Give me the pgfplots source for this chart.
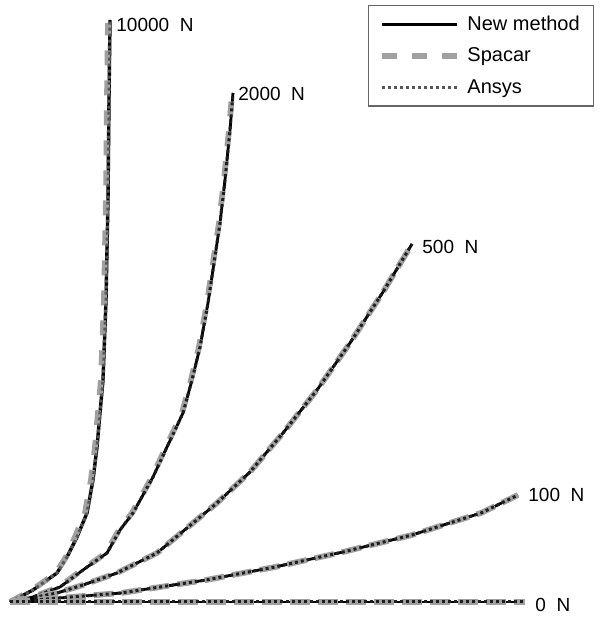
\documentclass[border=0pt]{standalone}
\usepackage{pgfplots}
\pgfplotsset{compat=1.18}
\usepackage{fontspec}
\setmainfont{Liberation Sans}
\definecolor{spgray}{RGB}{160,160,160}
\definecolor{ansys}{RGB}{30,30,30}
\pgfplotstableread{
x y
10 17
33 29
57 46
67 62
77 82
87 106
93 139
97 172
100 206
103 239
106 319
108 419
109 519
110 599
}\nmA
\pgfplotstableread{
x y
10 17
32 29
56 46
66 62
75 82
85 106
91 139
95 172
98 206
101 239
104 319
106 419
107 519
108 596
}\spA
\pgfplotstableread{
x y
10 17
33 22
60 32
83 49
107 66
120 89
133 106
153 142
167 172
183 206
192 239
200 272
208 316
214 356
220 396
225 439
230 489
233 526
}\nmB
\pgfplotstableread{
x y
10 17
33 22
59 32
82 49
106 66
119 89
132 106
152 142
166 172
182 206
191 239
199 272
207 316
213 356
219 396
224 439
229 489
232 524
}\spB
\pgfplotstableread{
x y
10 17
57 26
83 34
117 46
157 66
193 96
217 116
250 147
283 186
317 229
350 276
383 327
412 375
}\nmC
\pgfplotstableread{
x y
10 17
59 21
121 26
206 39
275 52
343 67
412 84
481 106
518 124
}\nmD
\pgfplotstableread{
x y
10 17
525 17
}\nmE
\begin{document}
\begin{tikzpicture}
\begin{axis}[
  width=302.5pt, height=309.5pt, scale only axis,
  xmin=0, xmax=605, ymin=0, ymax=619,
  hide axis, clip=false,
  legend cell align=left,
  legend style={at={(0.6083,0.9919)}, anchor=north west,
    draw=black!60, line width=0.6pt,
    font=\fontsize{10}{12}\selectfont,
    inner xsep=5pt, inner ysep=3pt,
    row sep=3.3pt,
    /tikz/every even column/.append style={column sep=3pt},
    /tikz/every odd column/.append style={column sep=2pt}},
  nm/.style={black, line width=1.4pt, solid},
  sp/.style={spgray, line width=2.9pt, dash pattern=on 7.5pt off 7.5pt},
  an/.style={ansys, line width=1.5pt, dash pattern=on 1.5pt off 1.5pt},
  legend image code/.code={\draw[#1] (0pt,0pt) -- (37.5pt,0pt);},
]
% 10000 N
\addplot[nm, line width=1.7pt] table[x=x,y=y] {\nmA};
\addlegendentry{New method}
\addplot[sp] table[x=x,y=y] {\spA};
\addlegendentry{Spacar}
\addplot[an, ansys!75] table[x=x,y=y] {\nmA};
\addlegendentry{Ansys}
% 2000 N
\addplot[nm, forget plot] table[x=x,y=y] {\nmB};
\addplot[sp, forget plot] table[x=x,y=y] {\spB};
\addplot[an, forget plot] table[x=x,y=y] {\nmB};
% 500 N
\addplot[nm, forget plot] table[x=x,y=y] {\nmC};
\addplot[sp, forget plot, dash pattern=on 10pt off 4pt] table[x=x,y=y] {\nmC};
\addplot[an, forget plot] table[x=x,y=y] {\nmC};
% 100 N
\addplot[nm, forget plot] table[x=x,y=y] {\nmD};
\addplot[sp, forget plot, dash pattern=on 10pt off 4pt] table[x=x,y=y] {\nmD};
\addplot[an, forget plot] table[x=x,y=y] {\nmD};
% 0 N
\addplot[nm, forget plot] table[x=x,y=y] {\nmE};
\addplot[sp, forget plot, dash pattern=on 10pt off 4pt] table[x=x,y=y] {\nmE};
\addplot[an, forget plot] table[x=x,y=y] {\nmE};
% labels
\node[anchor=west, inner sep=0pt, font=\fontsize{9.5}{11}\selectfont] at (axis cs:116,594) {10000~~N};
\node[anchor=west, inner sep=0pt, font=\fontsize{9.5}{11}\selectfont] at (axis cs:238,525) {2000~~N};
\node[anchor=west, inner sep=0pt, font=\fontsize{9.5}{11}\selectfont] at (axis cs:422,372) {500~~N};
\node[anchor=west, inner sep=0pt, font=\fontsize{9.5}{11}\selectfont] at (axis cs:528,124) {100~~N};
\node[anchor=west, inner sep=0pt, font=\fontsize{9.5}{11}\selectfont] at (axis cs:535,14) {0~~N};
\path (axis cs:0,0) rectangle (axis cs:605,619);
\end{axis}
\end{tikzpicture}
\end{document}
